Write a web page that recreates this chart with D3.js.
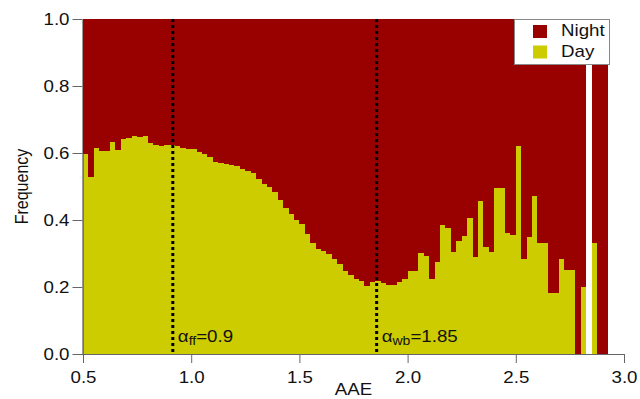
<!DOCTYPE html>
<html>
<head>
<meta charset="utf-8">
<script src="https://cdn.jsdelivr.net/npm/d3@7"></script>
<style>
  body { margin: 0; background: #fff; }
  svg { display: block; font-family: "Liberation Sans", Arial, sans-serif; }
</style>
</head>
<body>
<div id="chart"></div>
<script>
// histogram bins of AAE, 0.025 wide starting at 0.5
const binStart = 0.5;
const binWidth = 0.025;

// fraction of "Day" samples in each bin (null = empty bin)
const dayFraction = [
  0.598, 0.528, 0.616, 0.606, 0.606, 0.634, 0.608, 0.642, 0.645, 0.650,
  0.647, 0.650, 0.631, 0.625, 0.622, 0.625, 0.625, 0.622, 0.615, 0.613,
  0.613, 0.604, 0.597, 0.588, 0.574, 0.569, 0.567, 0.565, 0.562, 0.552,
  0.545, 0.539, 0.521, 0.507, 0.499, 0.483, 0.459, 0.435, 0.417, 0.401,
  0.387, 0.358, 0.332, 0.314, 0.306, 0.299, 0.283, 0.268, 0.247, 0.235,
  0.223, 0.218, 0.204, 0.214, 0.218, 0.211, 0.205, 0.206, 0.215, 0.224,
  0.247, 0.247, 0.301, 0.293, 0.224, 0.274, 0.384, 0.375, 0.304, 0.336,
  0.352, 0.405, 0.290, 0.458, 0.318, 0.304, 0.497, 0.497, 0.360, 0.354,
  0.622, 0.283, 0.349, 0.471, 0.331, 0.331, 0.181, 0.181, 0.283, 0.250,
  0.250, 0, 0.199, null, 0.330, 0, 0
];

const xTicks = [0.5, 1.0, 1.5, 2.0, 2.5, 3.0];
const yTicks = [0.0, 0.2, 0.4, 0.6, 0.8, 1.0];

// reference lines: position, subscript, label value
const refLines = [
  { x: 0.915, sub: 'ff', text: '=0.9' },
  { x: 1.857, sub: 'wb', text: '=1.85' }
];

const legendItems = [
  { name: 'Night', color: '#990000' },
  { name: 'Day', color: '#cccc00' }
];

const width = 640, height = 399;
const margin = { top: 19, right: 16, bottom: 45, left: 83 };
const sx = 1.17; // text in the original is a bit wider than plain Arial

const svg = d3.select('#chart').append('svg')
  .attr('width', width)
  .attr('height', height);

const x = d3.scaleLinear().domain([0.5, 3.0]).range([margin.left, width - margin.right]);
const y = d3.scaleLinear().domain([0, 1]).range([height - margin.bottom, margin.top]);

// helper: text anchored at (px, py), stretched horizontally
function addText(parent, px, py, str, anchor, rot) {
  const g = parent.append('g')
    .attr('transform', `translate(${px},${py}) scale(${sx},1)` + (rot ? ` rotate(${rot})` : ''));
  return g.append('text')
    .attr('text-anchor', anchor || 'start')
    .attr('font-size', 16)
    .attr('fill', '#111')
    .text(str);
}

const bins = dayFraction.map((d, i) => ({
  x0: binStart + i * binWidth,
  x1: binStart + (i + 1) * binWidth,
  day: d
})).filter(b => b.day !== null);

// night part (top of each stacked bar)
svg.append('g')
  .attr('shape-rendering', 'crispEdges')
  .selectAll('rect')
  .data(bins)
  .join('rect')
  .attr('x', d => x(d.x0))
  .attr('width', d => x(d.x1) - x(d.x0))
  .attr('y', y(1))
  .attr('height', d => y(d.day) - y(1))
  .attr('fill', legendItems[0].color);

// day part
svg.append('g')
  .attr('shape-rendering', 'crispEdges')
  .selectAll('rect')
  .data(bins)
  .join('rect')
  .attr('x', d => x(d.x0))
  .attr('width', d => x(d.x1) - x(d.x0))
  .attr('y', d => y(d.day))
  .attr('height', d => y(0) - y(d.day))
  .attr('fill', legendItems[1].color);

// axes
const xAxis = svg.append('g')
  .attr('transform', `translate(0,${y(0)})`)
  .call(d3.axisBottom(x).tickValues(xTicks).tickFormat(d3.format('.1f')).tickSize(9).tickSizeOuter(0));
xAxis.select('.domain').attr('stroke', '#666').attr('d', `M${x(0.5) - 10},0.5H${x(3.0)}`);

const yAxis = svg.append('g')
  .attr('transform', `translate(${x(0.5) - 0.5},0)`)
  .call(d3.axisLeft(y).tickValues(yTicks).tickFormat(d3.format('.1f')).tickSize(10).tickSizeOuter(0));
yAxis.select('.domain').attr('stroke', '#333');

svg.selectAll('.tick line').attr('stroke', '#666');
svg.selectAll('.tick text')
  .attr('font-size', 16)
  .attr('font-family', '"Liberation Sans", Arial, sans-serif')
  .attr('fill', '#111')
  .attr('transform', `scale(${sx},1)`);
xAxis.selectAll('.tick text').attr('dy', '1.05em');
yAxis.selectAll('.tick text').attr('x', -13 / sx);

// axis titles
addText(svg, (x(0.5) + x(3.0)) / 2, 395, 'AAE', 'middle');
addText(svg, 28, (y(0) + y(1)) / 2, 'Frequency', 'middle', -90);

// dotted reference lines + labels
const refs = svg.append('g').selectAll('g').data(refLines).join('g');
refs.append('line')
  .attr('x1', d => x(d.x)).attr('x2', d => x(d.x))
  .attr('y1', y(1)).attr('y2', y(0))
  .attr('stroke', '#000')
  .attr('stroke-width', 3)
  .attr('stroke-dasharray', '3,3');

refs.each(function (d) {
  const t = addText(d3.select(this), x(d.x) + 5, 342, '');
  t.append('tspan').text('α');
  t.append('tspan').attr('font-size', 12).attr('dy', 3).text(d.sub);
  t.append('tspan').attr('dy', -3).text(d.text);
});

// legend
const legend = svg.append('g');
legend.append('rect')
  .attr('x', 514.5).attr('y', 19.5)
  .attr('width', 95).attr('height', 45)
  .attr('fill', '#fff')
  .attr('stroke', '#888');

legendItems.forEach((d, i) => {
  legend.append('rect')
    .attr('x', 533).attr('y', 25 + i * 20.5)
    .attr('width', 14).attr('height', 13)
    .attr('fill', d.color);
  addText(legend, 561, 36 + i * 20.5, d.name);
});
</script>
</body>
</html>
